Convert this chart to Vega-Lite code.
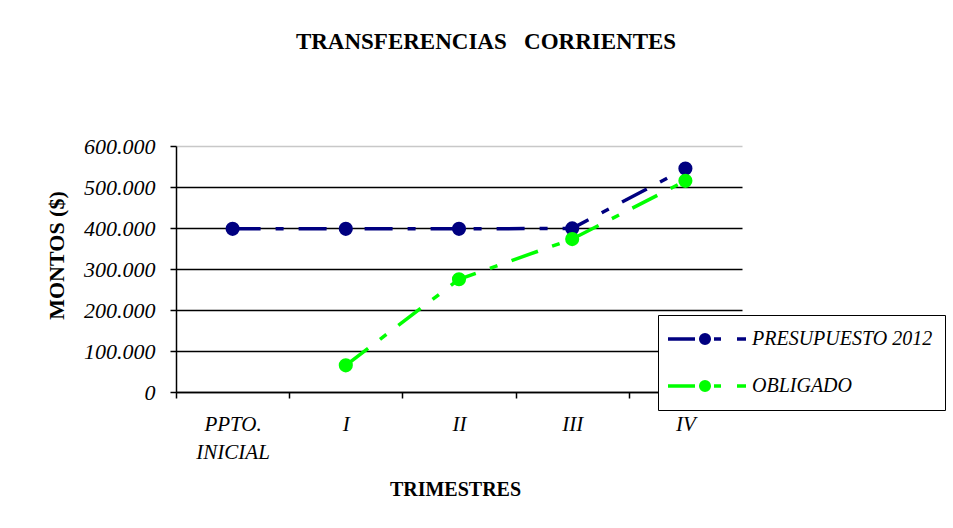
{
  "$schema": "https://vega.github.io/schema/vega-lite/v6.json",
  "width": 566,
  "height": 246,
  "autosize": {"type": "none"},
  "padding": {"left": 176, "top": 146, "right": 211, "bottom": 136},
  "background": "white",
  "title": {
    "text": "TRANSFERENCIAS\u00a0\u00a0 CORRIENTES",
    "font": "Liberation Serif",
    "fontSize": 23,
    "fontWeight": "bold",
    "color": "black",
    "anchor": "middle",
    "frame": "group",
    "dx": 27,
    "offset": 63,
    "baseline": "alphabetic"
  },
  "data": {
    "values": [
      {"trimestre": "PPTO. INICIAL", "serie": "PRESUPUESTO 2012", "monto": 398000},
      {"trimestre": "I", "serie": "PRESUPUESTO 2012", "monto": 398000},
      {"trimestre": "II", "serie": "PRESUPUESTO 2012", "monto": 398000},
      {"trimestre": "III", "serie": "PRESUPUESTO 2012", "monto": 399000},
      {"trimestre": "IV", "serie": "PRESUPUESTO 2012", "monto": 545000},
      {"trimestre": "I", "serie": "OBLIGADO", "monto": 65000},
      {"trimestre": "II", "serie": "OBLIGADO", "monto": 275000},
      {"trimestre": "III", "serie": "OBLIGADO", "monto": 373000},
      {"trimestre": "IV", "serie": "OBLIGADO", "monto": 515000}
    ]
  },
  "encoding": {
    "x": {
      "field": "trimestre",
      "type": "ordinal",
      "sort": ["PPTO. INICIAL", "I", "II", "III", "IV"],
      "scale": {"type": "band", "paddingInner": 0, "paddingOuter": 0},
      "axis": {
        "title": "TRIMESTRES",
        "titleFont": "Liberation Serif",
        "titleFontSize": 20,
        "titleFontWeight": "bold",
        "titleColor": "black",
        "titleX": 279,
        "titleY": 97,
        "titleAlign": "center",
        "titleBaseline": "middle",
        "labelFont": "Liberation Serif",
        "labelFontSize": 21,
        "labelFontStyle": "italic",
        "labelColor": "black",
        "labelAngle": 0,
        "labelPadding": 15,
        "labelLineHeight": 28,
        "labelExpr": "datum.value == 'PPTO. INICIAL' ? ['PPTO.', 'INICIAL'] : datum.value",
        "tickBand": "extent",
        "tickSize": 6,
        "tickColor": "black",
        "tickWidth": 1.5,
        "domainColor": "black",
        "domainWidth": 1.5,
        "grid": false
      }
    },
    "y": {
      "field": "monto",
      "type": "quantitative",
      "scale": {"domain": [0, 600000], "nice": false},
      "axis": {
        "title": "MONTOS ($)",
        "titleFont": "Liberation Serif",
        "titleFontSize": 22,
        "titleFontWeight": "bold",
        "titleColor": "black",
        "titleAngle": 270,
        "titleX": -120,
        "titleY": 109,
        "titleAlign": "center",
        "titleBaseline": "middle",
        "values": [0, 100000, 200000, 300000, 400000, 500000, 600000],
        "labelExpr": "replace(format(datum.value, ','), regexp(',', 'g'), '.')",
        "labelFont": "Liberation Serif",
        "labelFontSize": 22,
        "labelFontStyle": "italic",
        "labelColor": "black",
        "labelPadding": 15,
        "tickSize": 6,
        "tickColor": "black",
        "tickWidth": 1.5,
        "domainColor": "black",
        "domainWidth": 1.5,
        "grid": true,
        "gridColor": {"condition": {"test": "datum.value == 600000", "value": "#c8c8c8"}, "value": "black"},
        "gridWidth": 1.5
      }
    },
    "color": {
      "field": "serie",
      "type": "nominal",
      "scale": {"domain": ["PRESUPUESTO 2012", "OBLIGADO"], "range": ["#000080", "#00ff00"]},
      "legend": {
        "title": null,
        "orient": "none",
        "legendX": 482,
        "legendY": 169,
        "padding": 12,
        "rowPadding": 23,
        "strokeColor": "black",
        "fillColor": "white",
        "symbolType": "M-1.4,0H1.3M3.2,0H3.9M5.5,0H6.4M1.87,0A0.43,0.43,0,1,0,2.73,0A0.43,0.43,0,1,0,1.87,0Z",
        "symbolSize": 400,
        "symbolStrokeWidth": 3.5,
        "labelFont": "Liberation Serif",
        "labelFontSize": 20,
        "labelFontStyle": "italic",
        "labelColor": "black",
        "labelOffset": 58,
        "labelLimit": 300,
        "encode": {
          "symbols": {
            "update": {
              "fill": {"scale": "color", "field": "value"},
              "stroke": {"scale": "color", "field": "value"},
              "strokeWidth": {"value": 3.5},
              "opacity": {"value": 1}
            }
          }
        }
      }
    }
  },
  "layer": [
    {
      "mark": {"type": "line", "strokeWidth": 3.5, "strokeDash": [28, 15, 8, 15]}
    },
    {
      "mark": {"type": "point", "filled": true, "size": 200, "opacity": 1, "shape": "circle"}
    }
  ],
  "config": {
    "view": {"stroke": null},
    "font": "Liberation Serif"
  }
}
